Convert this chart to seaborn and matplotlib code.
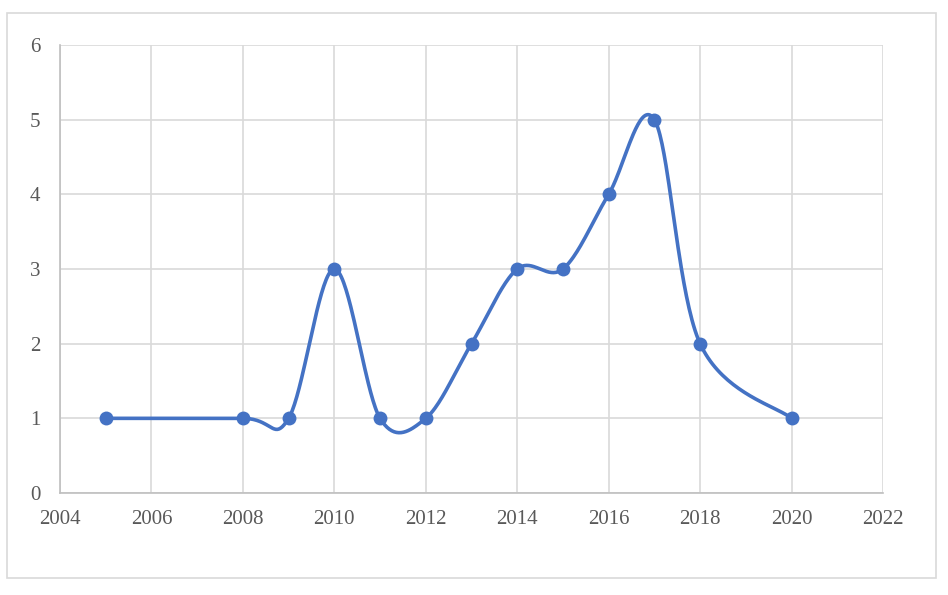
import numpy as np
import pandas as pd
import matplotlib.pyplot as plt
import seaborn as sns
from matplotlib.patches import Rectangle

# data
years = [2005, 2008, 2009, 2010, 2011, 2012, 2013, 2014, 2015, 2016, 2017, 2018, 2020]
counts = [1, 1, 1, 3, 1, 1, 2, 3, 3, 4, 5, 2, 1]

df = pd.DataFrame({"year": years, "count": counts})


def excel_smooth(x, y, n=40):
    # Bezier smoothing like Excel's "smoothed line" (Catmull-Rom, tension 1/6)
    x = np.asarray(x, float)
    y = np.asarray(y, float)
    px = np.concatenate([[x[0]], x, [x[-1]]])
    py = np.concatenate([[y[0]], y, [y[-1]]])
    xs, ys = [], []
    t = np.linspace(0, 1, n)
    for i in range(1, len(px) - 2):
        p0 = np.array([px[i], py[i]])
        p3 = np.array([px[i + 1], py[i + 1]])
        c1 = p0 + (np.array([px[i + 1], py[i + 1]]) - np.array([px[i - 1], py[i - 1]])) / 6
        c2 = p3 - (np.array([px[i + 2], py[i + 2]]) - np.array([px[i], py[i]])) / 6
        b = ((1 - t) ** 3)[:, None] * p0 + (3 * (1 - t) ** 2 * t)[:, None] * c1 \
            + (3 * (1 - t) * t ** 2)[:, None] * c2 + (t ** 3)[:, None] * p3
        xs.extend(b[:, 0])
        ys.extend(b[:, 1])
    return pd.DataFrame({"year": xs, "count": ys})


smooth = excel_smooth(years, counts)

sns.set_style("white")
plt.rcParams["font.family"] = ["Liberation Serif", "DejaVu Serif"]

fig = plt.figure(figsize=(9.48, 5.95), dpi=100)
ax = fig.add_axes([60 / 948, 1 - 493 / 595, 823 / 948, 448 / 595])

# outer chart border
fig.patches.append(Rectangle((7 / 948, 1 - 578 / 595), 929 / 948, 565 / 595,
                             transform=fig.transFigure, fill=False,
                             edgecolor="#d9d9d9", linewidth=1.2))

color = "#4472C4"
sns.lineplot(data=smooth, x="year", y="count", ax=ax, color=color, linewidth=2.6,
             sort=False, estimator=None)
sns.scatterplot(data=df, x="year", y="count", ax=ax, color=color, s=100,
                edgecolor=color, linewidth=0, zorder=3)

ax.set_xlim(2004, 2022)
ax.set_ylim(0, 6)
ax.set_xticks(range(2004, 2023, 2))
ax.set_yticks(range(0, 7))
ax.grid(True, color="#d9d9d9", linewidth=1.2)
ax.set_axisbelow(True)
ax.set_xlabel("")
ax.set_ylabel("")

for side in ["top", "right"]:
    ax.spines[side].set_visible(False)
for side in ["left", "bottom"]:
    ax.spines[side].set_color("#bfbfbf")
    ax.spines[side].set_linewidth(1.2)

ax.tick_params(axis="both", length=0, labelsize=15, colors="#595959")
ax.tick_params(axis="x", pad=12)
ax.tick_params(axis="y", pad=14)

fig.savefig("out.png", dpi=100)
plt.close(fig)
